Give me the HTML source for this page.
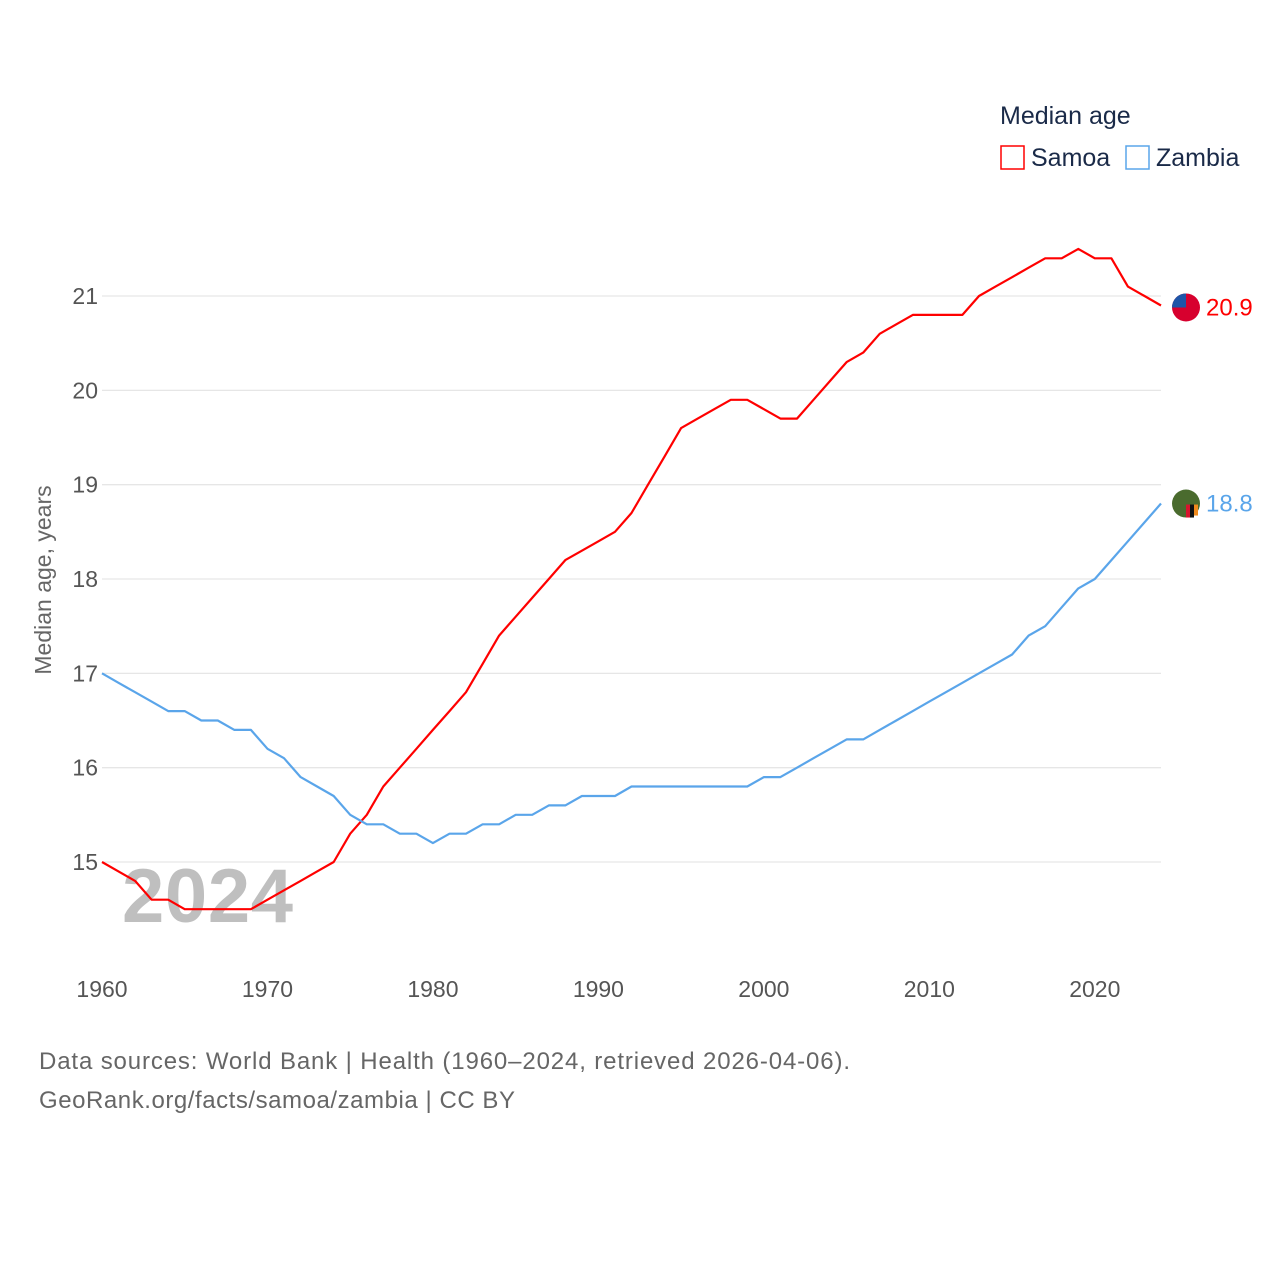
<!DOCTYPE html>
<html><head><meta charset="utf-8"><style>
body{margin:0;background:#fff;}
svg text{font-family:"Liberation Sans",sans-serif;}
</style></head><body>
<svg width="1280" height="1280" xmlns="http://www.w3.org/2000/svg">
<g id="grid"></g>
<g id="yt"></g>
<g id="xt"></g>
<text x="122" y="922" font-size="76" font-weight="bold" fill="#bfbfbf" textLength="171">2024</text>
<text transform="translate(51,580) rotate(-90)" text-anchor="middle" font-size="23" fill="#666">Median age, years</text>
<g id="lines"></g>
<g>
<text x="1000" y="124" font-size="25" fill="#1a2a48">Median age</text>
<rect x="1001" y="146" width="23" height="23" fill="none" stroke="#f00" stroke-width="1.5"/>
<text x="1031" y="166" font-size="25" fill="#1a2a48">Samoa</text>
<rect x="1126" y="146" width="23" height="23" fill="none" stroke="#5aa5ea" stroke-width="1.5"/>
<text x="1156" y="166" font-size="25" fill="#1a2a48">Zambia</text>
</g>
<g id="ends"></g>
<text x="39" y="1069" font-size="24" fill="#666" textLength="811">Data sources: World Bank | Health (1960–2024, retrieved 2026-04-06).</text>
<text x="39" y="1108" font-size="24" fill="#666" textLength="476">GeoRank.org/facts/samoa/zambia | CC BY</text>
</svg>
<script>
const years=[];for(let y=1960;y<=2024;y++)years.push(y);
const samoa=[15.0,14.9,14.8,14.6,14.6,14.5,14.5,14.5,14.5,14.5,14.6,14.7,14.8,14.9,15.0,15.3,15.5,15.8,16.0,16.2,16.4,16.6,16.8,17.1,17.4,17.6,17.8,18.0,18.2,18.3,18.4,18.5,18.7,19.0,19.3,19.6,19.7,19.8,19.9,19.9,19.8,19.7,19.7,19.9,20.1,20.3,20.4,20.6,20.7,20.8,20.8,20.8,20.8,21.0,21.1,21.2,21.3,21.4,21.4,21.5,21.4,21.4,21.1,21.0,20.9];
const zambia=[17.0,16.9,16.8,16.7,16.6,16.6,16.5,16.5,16.4,16.4,16.2,16.1,15.9,15.8,15.7,15.5,15.4,15.4,15.3,15.3,15.2,15.3,15.3,15.4,15.4,15.5,15.5,15.6,15.6,15.7,15.7,15.7,15.8,15.8,15.8,15.8,15.8,15.8,15.8,15.8,15.9,15.9,16.0,16.1,16.2,16.3,16.3,16.4,16.5,16.6,16.7,16.8,16.9,17.0,17.1,17.2,17.4,17.5,17.7,17.9,18.0,18.2,18.4,18.6,18.8];
const yTicks=[15,16,17,18,19,20,21];
const xTicks=[1960,1970,1980,1990,2000,2010,2020];
const X=y=>102+(y-1960)*(1161-102)/64;
const Y=v=>862-(v-15)*94.33;
const NS="http://www.w3.org/2000/svg";
function mk(t,a,p){const e=document.createElementNS(NS,t);for(const k in a)e.setAttribute(k,a[k]);p.appendChild(e);return e;}
const grid=document.getElementById('grid'),yt=document.getElementById('yt'),xt=document.getElementById('xt');
yTicks.forEach(v=>{
 const l=mk('line',{x1:102,x2:1161,y1:Y(v),y2:Y(v),stroke:'#e6e6e6','stroke-width':1.3},grid);
 
 
 const t=mk('text',{x:98,y:Y(v)+8,'text-anchor':'end','font-size':23,fill:'#555'},yt);t.textContent=v;
 
 
});
xTicks.forEach(v=>{
 const t=mk('text',{x:X(v),y:997,'text-anchor':'middle','font-size':23,fill:'#555'},xt);t.textContent=v;
 
 
});
const lines=document.getElementById('lines');
function series(vals,color,name){
 const d=vals.map((v,i)=>(i?'L':'M')+X(years[i]).toFixed(1)+' '+Y(v).toFixed(1)).join(' ');
 const p=mk('path',{d:d,fill:'none',stroke:color,'stroke-width':2.2,'stroke-linejoin':'round'},lines);
 
 
}
series(samoa,'#f00','samoa-line');
series(zambia,'#5aa5ea','zambia-line');
const ends=document.getElementById('ends');
const sv=samoa[samoa.length-1],zv=zambia[zambia.length-1];
let g=mk('g',{},ends);


mk('circle',{cx:1186,cy:Y(sv)+2,r:14,fill:'#d7002e'},g);
mk('path',{d:`M1172 ${Y(sv)+2} A14 14 0 0 1 1186 ${Y(sv)-12} L1186 ${Y(sv)+2} Z`,fill:'#1e55a8'},g);
let t=mk('text',{x:1206,y:Y(sv)+10,'font-size':24,fill:'#f00'},ends);t.textContent=sv.toFixed(1);


g=mk('g',{},ends);


mk('circle',{cx:1186,cy:Y(zv),r:14,fill:'#4a6b2e'},g);
mk('rect',{x:1186,y:Y(zv)+1,width:4,height:13,fill:'#d7152e'},g);
mk('rect',{x:1190,y:Y(zv)+1,width:4,height:13,fill:'#111'},g);
mk('rect',{x:1194,y:Y(zv)+1,width:4,height:11,fill:'#f08a1c'},g);
t=mk('text',{x:1206,y:Y(zv)+8,'font-size':24,fill:'#5aa5ea'},ends);t.textContent=zv.toFixed(1);


</script>
</body></html>
